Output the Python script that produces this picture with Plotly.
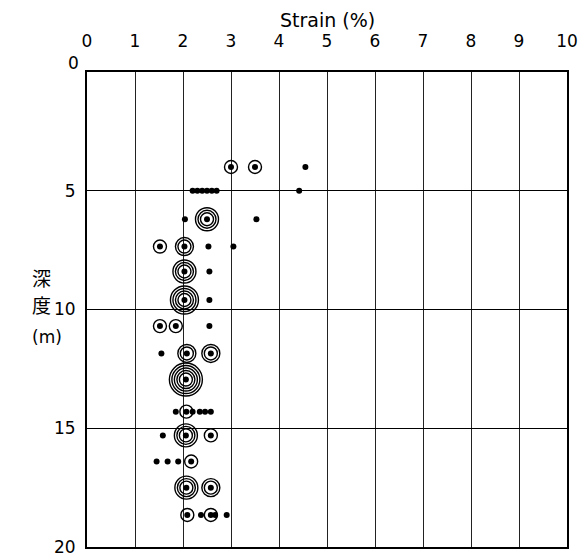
import plotly.graph_objects as go

# Strain (%) and depth (m) of each observation, with the number of rings
# drawn around it (0 = plain dot).
strain = [
    3.0, 3.5, 4.55,
    2.2, 2.3, 2.4, 2.5, 2.6, 2.7, 4.42,
    2.04, 2.5, 3.53,
    1.52, 2.03, 2.53, 3.05,
    2.03, 2.55,
    2.03, 2.55,
    1.52, 1.85, 2.55,
    1.55, 2.08, 2.58,
    2.06,
    1.85, 2.07, 2.2, 2.35, 2.46, 2.58,
    1.58, 2.06, 2.58,
    1.45, 1.68, 1.9, 2.17,
    2.07, 2.58,
    2.09, 2.375, 2.58, 2.67, 2.91,
]
depth = [
    4.0, 4.0, 4.0,
    5.0, 5.0, 5.0, 5.0, 5.0, 5.0, 5.0,
    6.2, 6.2, 6.2,
    7.35, 7.35, 7.35, 7.35,
    8.4, 8.4,
    9.6, 9.6,
    10.7, 10.7, 10.7,
    11.85, 11.85, 11.85,
    12.95,
    14.3, 14.3, 14.3, 14.3, 14.3, 14.3,
    15.3, 15.3, 15.3,
    16.4, 16.4, 16.4, 16.4,
    17.5, 17.5,
    18.65, 18.65, 18.65, 18.65, 18.65,
]
rings = [
    1, 1, 0,
    0, 0, 0, 0, 0, 0, 0,
    0, 3, 0,
    1, 2, 0, 0,
    3, 0,
    4, 0,
    1, 1, 0,
    0, 2, 2,
    5,
    0, 1, 0, 0, 0, 0,
    0, 3, 1,
    0, 0, 0, 1,
    3, 2,
    1, 0, 1, 0, 0,
]

x_ticks = list(range(0, 11))
y_ticks = [5, 10, 15, 20]

FONT = "DejaVu Sans"

fig = go.Figure()

# concentric rings, one trace per ring level
for k in range(1, max(rings) + 1):
    xs = [s for s, r in zip(strain, rings) if r >= k]
    ys = [d for d, r in zip(depth, rings) if r >= k]
    fig.add_trace(go.Scatter(
        x=xs, y=ys, mode="markers", hoverinfo="skip", showlegend=False,
        marker=dict(symbol="circle-open", size=8 + 5 * k, color="black",
                    line=dict(width=1.4, color="black")),
    ))

# centre dots
fig.add_trace(go.Scatter(
    x=strain, y=depth, mode="markers", showlegend=False,
    marker=dict(symbol="circle", size=6, color="black"),
))

fig.update_xaxes(
    range=[0, 10], side="top", tickvals=x_ticks,
    ticktext=[str(v) for v in x_ticks],
    showgrid=True, gridcolor="#222", gridwidth=1,
    showline=True, linecolor="black", linewidth=2, mirror=True,
    zeroline=False, ticks="", ticklabelstandoff=16, automargin=False,
    tickfont=dict(family=FONT, size=17, color="black"),
)
fig.update_yaxes(
    range=[20, 0], tickvals=y_ticks, ticktext=[str(v) for v in y_ticks],
    showgrid=True, gridcolor="black", gridwidth=1,
    showline=True, linecolor="black", linewidth=2, mirror=True,
    zeroline=False, ticks="", ticklabelstandoff=6, automargin=False,
    tickfont=dict(family=FONT, size=17, color="black"),
)

annotations = [
    dict(text="Strain (%)", x=0.5, y=1 + 52 / 475, xref="paper", yref="paper",
         showarrow=False, font=dict(family=FONT, size=19, color="black"),
         xanchor="center", yanchor="middle"),
    dict(text="0", x=0, y=0, xref="paper", yref="y", showarrow=False,
         xanchor="right", yanchor="middle", xshift=-6, yshift=9,
         font=dict(family=FONT, size=17, color="black")),
    dict(text="深", x=-0.119, y=8.65, xref="paper", yref="y", showarrow=False,
         font=dict(family="Noto Sans CJK JP", size=19, color="black")),
    dict(text="度", x=-0.119, y=9.8, xref="paper", yref="y", showarrow=False,
         font=dict(family="Noto Sans CJK JP", size=19, color="black")),
    dict(text="(m)", x=-0.119, y=11.15, xref="paper", yref="y", showarrow=False,
         font=dict(family=FONT, size=17, color="black")),
]

fig.update_layout(
    width=581, height=560,
    margin=dict(l=87, r=14, t=72, b=13),
    plot_bgcolor="white", paper_bgcolor="white",
    annotations=annotations,
)

fig.write_html("out.html")
